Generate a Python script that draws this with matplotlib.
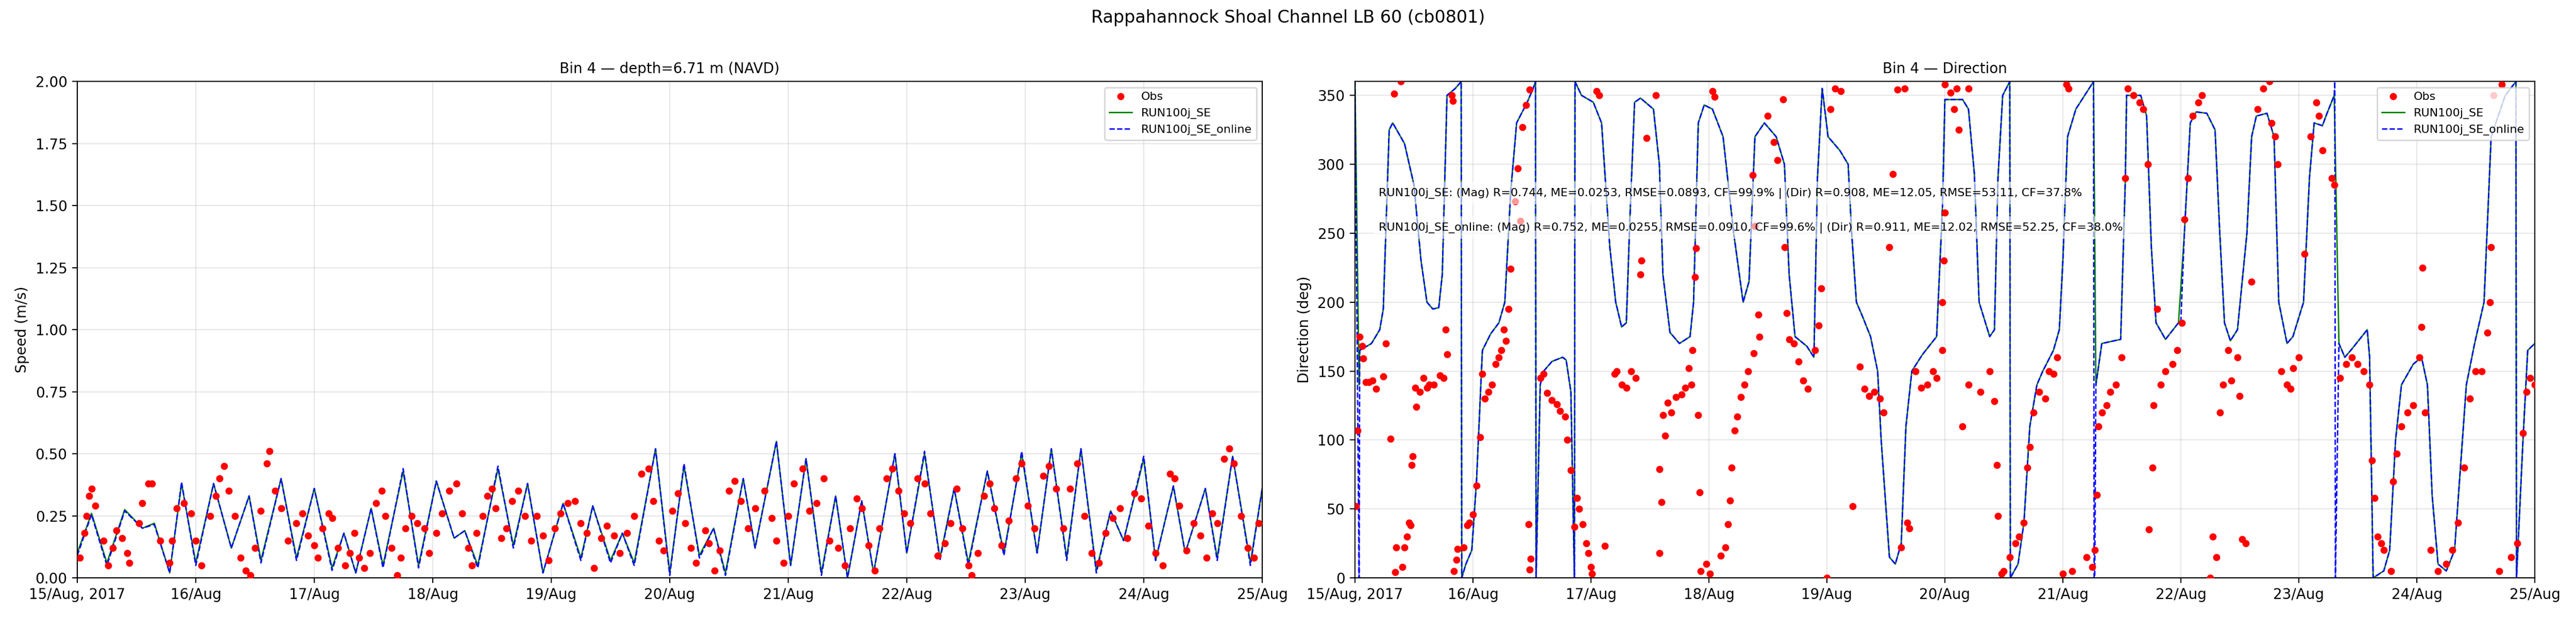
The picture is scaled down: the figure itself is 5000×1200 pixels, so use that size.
import numpy as np
import pandas as pd
import matplotlib.pyplot as plt
import matplotlib.dates as mdates

T0 = pd.Timestamp("2017-08-15")

# velocidade do modelo (dias desde 15/Aug, m/s)
mod_vel = [
    (0.0, 0.10), (0.12, 0.26), (0.25, 0.06), (0.4, 0.275), (0.55, 0.20), (0.65, 0.22),
    (0.78, 0.02), (0.88, 0.38), (1.0, 0.06), (1.15, 0.38), (1.3, 0.12), (1.45, 0.33),
    (1.55, 0.07), (1.72, 0.40), (1.85, 0.08), (2.0, 0.36), (2.15, 0.04), (2.25, 0.18),
    (2.35, 0.02), (2.48, 0.28), (2.58, 0.05), (2.75, 0.43), (2.88, 0.05), (3.03, 0.39),
    (3.18, 0.16), (3.27, 0.19), (3.38, 0.05), (3.55, 0.44), (3.68, 0.13), (3.8, 0.38),
    (3.93, 0.02), (4.1, 0.30), (4.25, 0.08), (4.35, 0.29), (4.5, 0.07), (4.6, 0.18),
    (4.7, 0.06), (4.88, 0.52), (5.0, 0.02), (5.12, 0.45), (5.25, 0.09), (5.37, 0.20),
    (5.47, 0.02), (5.62, 0.40), (5.72, 0.12), (5.9, 0.55), (6.02, 0.05), (6.15, 0.48),
    (6.28, 0.02), (6.4, 0.33), (6.5, 0.0), (6.62, 0.31), (6.72, 0.02), (6.9, 0.50),
    (7.0, 0.10), (7.15, 0.50), (7.28, 0.08), (7.4, 0.36), (7.52, 0.06), (7.68, 0.43),
    (7.82, 0.10), (7.97, 0.50), (8.1, 0.10), (8.22, 0.52), (8.35, 0.08), (8.47, 0.52),
    (8.6, 0.03), (8.72, 0.27), (8.83, 0.15), (9.0, 0.48), (9.1, 0.07), (9.25, 0.37),
    (9.35, 0.10), (9.52, 0.36), (9.62, 0.08), (9.75, 0.49), (9.9, 0.06), (10.0, 0.36),
]
mod_vel_online = [
    (0.0, 0.09), (0.12, 0.255), (0.25, 0.05), (0.4, 0.27), (0.55, 0.20), (0.65, 0.215),
    (0.78, 0.02), (0.88, 0.385), (1.0, 0.05), (1.15, 0.38), (1.3, 0.12), (1.45, 0.33),
    (1.55, 0.06), (1.72, 0.40), (1.85, 0.07), (2.0, 0.36), (2.15, 0.03), (2.25, 0.18),
    (2.35, 0.02), (2.48, 0.28), (2.58, 0.04), (2.75, 0.44), (2.88, 0.04), (3.03, 0.39),
    (3.18, 0.16), (3.27, 0.19), (3.38, 0.04), (3.55, 0.45), (3.68, 0.12), (3.8, 0.38),
    (3.93, 0.02), (4.1, 0.30), (4.25, 0.07), (4.35, 0.29), (4.5, 0.06), (4.6, 0.18),
    (4.7, 0.05), (4.88, 0.52), (5.0, 0.01), (5.12, 0.46), (5.25, 0.08), (5.37, 0.20),
    (5.47, 0.01), (5.62, 0.40), (5.72, 0.12), (5.9, 0.55), (6.02, 0.05), (6.15, 0.48),
    (6.28, 0.01), (6.4, 0.33), (6.5, 0.0), (6.62, 0.31), (6.72, 0.02), (6.9, 0.50),
    (7.0, 0.10), (7.15, 0.51), (7.28, 0.07), (7.4, 0.36), (7.52, 0.05), (7.68, 0.43),
    (7.82, 0.09), (7.97, 0.51), (8.1, 0.10), (8.22, 0.52), (8.35, 0.07), (8.47, 0.52),
    (8.6, 0.02), (8.72, 0.27), (8.83, 0.15), (9.0, 0.49), (9.1, 0.07), (9.25, 0.37),
    (9.35, 0.10), (9.52, 0.36), (9.62, 0.07), (9.75, 0.49), (9.9, 0.05), (10.0, 0.36),
]

obs_vel = [
    (0.02, 0.08), (0.06, 0.18), (0.08, 0.25), (0.1, 0.33), (0.12, 0.36), (0.15, 0.29),
    (0.22, 0.15), (0.26, 0.05), (0.3, 0.12), (0.33, 0.19), (0.38, 0.16), (0.42, 0.10),
    (0.44, 0.06), (0.52, 0.22), (0.55, 0.30), (0.6, 0.38), (0.63, 0.38), (0.7, 0.15),
    (0.78, 0.06), (0.8, 0.15), (0.84, 0.28), (0.9, 0.30), (0.96, 0.26), (1.0, 0.15),
    (1.05, 0.05), (1.12, 0.25), (1.17, 0.33), (1.2, 0.40), (1.24, 0.45), (1.28, 0.35),
    (1.33, 0.25), (1.38, 0.08), (1.42, 0.03), (1.46, 0.01), (1.5, 0.12), (1.55, 0.27),
    (1.6, 0.46), (1.62, 0.51), (1.67, 0.35), (1.72, 0.28), (1.78, 0.15), (1.85, 0.22),
    (1.9, 0.26), (1.95, 0.17), (2.0, 0.13), (2.03, 0.08), (2.07, 0.20), (2.12, 0.26),
    (2.15, 0.24), (2.2, 0.12), (2.26, 0.05), (2.3, 0.10), (2.34, 0.18), (2.38, 0.08),
    (2.42, 0.04), (2.47, 0.10), (2.52, 0.30), (2.57, 0.35), (2.6, 0.25), (2.65, 0.12),
    (2.7, 0.01), (2.73, 0.08), (2.77, 0.20), (2.82, 0.25), (2.87, 0.22), (2.93, 0.20),
    (2.97, 0.10), (3.03, 0.18), (3.08, 0.26), (3.14, 0.35), (3.2, 0.38), (3.25, 0.26),
    (3.3, 0.12), (3.33, 0.05), (3.37, 0.18), (3.42, 0.25), (3.46, 0.33), (3.5, 0.36),
    (3.53, 0.28), (3.58, 0.16), (3.62, 0.20), (3.67, 0.31), (3.72, 0.35), (3.78, 0.25),
    (3.83, 0.15), (3.88, 0.25), (3.93, 0.17), (3.98, 0.07), (4.03, 0.20), (4.08, 0.26),
    (4.14, 0.30), (4.2, 0.31), (4.25, 0.22), (4.3, 0.18), (4.36, 0.04), (4.42, 0.16),
    (4.47, 0.21), (4.53, 0.17), (4.58, 0.10), (4.64, 0.18), (4.7, 0.25), (4.76, 0.42),
    (4.82, 0.44), (4.86, 0.31), (4.91, 0.15), (4.95, 0.11), (5.02, 0.27), (5.07, 0.34),
    (5.13, 0.22), (5.18, 0.12), (5.22, 0.06), (5.3, 0.19), (5.33, 0.14), (5.38, 0.03),
    (5.42, 0.11), (5.5, 0.35), (5.55, 0.39), (5.6, 0.31), (5.66, 0.20), (5.72, 0.28),
    (5.8, 0.35), (5.86, 0.24), (5.9, 0.15), (5.96, 0.06), (6.0, 0.25), (6.05, 0.38),
    (6.12, 0.44), (6.18, 0.27), (6.24, 0.30), (6.3, 0.40), (6.35, 0.15), (6.42, 0.12),
    (6.48, 0.05), (6.52, 0.20), (6.58, 0.32), (6.62, 0.28), (6.68, 0.13), (6.73, 0.03),
    (6.77, 0.20), (6.83, 0.40), (6.88, 0.44), (6.93, 0.35), (6.98, 0.26), (7.03, 0.22),
    (7.09, 0.40), (7.15, 0.38), (7.2, 0.26), (7.26, 0.09), (7.32, 0.14), (7.37, 0.22),
    (7.42, 0.36), (7.47, 0.20), (7.52, 0.05), (7.55, 0.01), (7.6, 0.10), (7.65, 0.33),
    (7.7, 0.38), (7.74, 0.28), (7.8, 0.13), (7.86, 0.23), (7.92, 0.40), (7.97, 0.46),
    (8.02, 0.29), (8.08, 0.20), (8.15, 0.41), (8.2, 0.45), (8.26, 0.36), (8.32, 0.20),
    (8.38, 0.36), (8.44, 0.46), (8.5, 0.25), (8.56, 0.10), (8.62, 0.06), (8.68, 0.18),
    (8.74, 0.24), (8.8, 0.28), (8.86, 0.16), (8.92, 0.34), (8.98, 0.32), (9.04, 0.21),
    (9.1, 0.10), (9.16, 0.05), (9.22, 0.42), (9.26, 0.40), (9.3, 0.29), (9.36, 0.11),
    (9.42, 0.22), (9.48, 0.17), (9.53, 0.08), (9.58, 0.26), (9.62, 0.22), (9.68, 0.48),
    (9.72, 0.52), (9.76, 0.46), (9.82, 0.25), (9.88, 0.12), (9.93, 0.08), (9.97, 0.22),
]

# direcao do modelo (graus)
mod_dir = [
    (0.0, 360), (0.035, 140), (0.04, 165), (0.14, 170), (0.21, 180), (0.24, 195),
    (0.29, 325), (0.32, 330), (0.42, 315), (0.5, 285), (0.56, 230), (0.61, 200),
    (0.66, 195), (0.71, 196), (0.74, 220), (0.78, 350), (0.85, 355), (0.9, 360),
    (0.905, 0), (0.94, 10), (0.99, 20), (1.03, 70), (1.08, 165), (1.15, 177),
    (1.22, 185), (1.27, 200), (1.32, 280), (1.37, 330), (1.46, 345), (1.51, 355),
    (1.53, 360), (1.535, 0), (1.57, 140), (1.6, 150), (1.67, 157), (1.76, 160),
    (1.79, 158), (1.83, 135), (1.86, 0), (1.865, 360), (1.92, 350), (2.02, 345),
    (2.09, 330), (2.16, 240), (2.21, 200), (2.26, 182), (2.3, 185), (2.33, 260),
    (2.37, 345), (2.42, 348), (2.53, 340), (2.58, 300), (2.61, 220), (2.67, 178),
    (2.75, 170), (2.84, 175), (2.87, 200), (2.91, 330), (2.96, 343), (3.03, 340),
    (3.12, 320), (3.21, 250), (3.29, 200), (3.34, 215), (3.39, 320), (3.47, 330),
    (3.57, 320), (3.64, 300), (3.68, 220), (3.73, 175), (3.83, 168), (3.89, 160),
    (3.92, 290), (3.96, 355), (4.01, 320), (4.11, 310), (4.18, 300), (4.21, 250),
    (4.25, 200), (4.3, 190), (4.37, 175), (4.43, 150), (4.46, 100), (4.53, 15),
    (4.58, 10), (4.63, 25), (4.67, 110), (4.72, 150), (4.81, 162), (4.93, 175),
    (4.98, 270), (5.0, 347), (5.15, 347), (5.2, 340), (5.25, 293), (5.29, 200),
    (5.38, 175), (5.42, 180), (5.45, 290), (5.49, 350), (5.55, 360), (5.555, 0),
    (5.62, 10), (5.67, 40), (5.72, 110), (5.78, 140), (5.83, 150), (5.92, 165),
    (5.97, 180), (6.0, 230), (6.04, 320), (6.11, 340), (6.26, 360), (6.28, 140),
    (6.33, 170), (6.49, 173), (6.53, 290), (6.54, 350), (6.66, 350), (6.71, 335),
    (6.75, 240), (6.79, 185), (6.87, 173), (6.98, 185), (7.03, 250), (7.08, 330),
    (7.13, 338), (7.22, 337), (7.29, 325), (7.33, 250), (7.37, 185), (7.42, 172),
    (7.48, 180), (7.56, 250), (7.6, 320), (7.64, 335), (7.73, 337), (7.79, 320),
    (7.83, 200), (7.9, 170), (7.95, 175), (8.04, 200), (8.09, 290), (8.13, 330),
    (8.2, 328), (8.23, 335), (8.3, 350), (8.34, 170), (8.39, 160), (8.44, 165),
    (8.58, 180), (8.6, 160), (8.63, 0), (8.72, 5), (8.77, 20), (8.82, 100),
    (8.87, 140), (8.97, 155), (9.04, 160), (9.09, 140), (9.13, 60), (9.18, 10),
    (9.25, 5), (9.32, 20), (9.37, 80), (9.42, 140), (9.49, 170), (9.57, 200),
    (9.63, 320), (9.75, 350), (9.84, 360), (9.845, 0), (9.9, 100), (9.94, 165),
    (10.0, 170),
]
# online: igual ao modelo, mas cai ate 0 nas viradas
mod_dir_online = [p for p in mod_dir if p[0] not in (0.035,)]
mod_dir_online += [(0.035, 0), (6.265, 0), (6.27, 0), (8.305, 360), (8.31, 0), (7.0, 186)]
mod_dir_online = sorted(mod_dir_online, key=lambda p: p[0])

obs_dir = [
    (0.02, 107), (0.01, 52), (0.04, 175), (0.06, 168), (0.07, 159), (0.09, 142), (0.12, 142),
    (0.15, 143), (0.18, 137), (0.24, 146), (0.26, 170), (0.3, 101), (0.33, 351), (0.35, 22),
    (0.34, 4), (0.39, 360), (0.4, 8), (0.42, 22), (0.44, 30), (0.46, 40), (0.47, 38),
    (0.48, 82), (0.49, 88), (0.51, 138), (0.52, 124), (0.55, 135), (0.58, 145), (0.61, 138),
    (0.63, 140), (0.67, 140), (0.72, 147), (0.75, 145), (0.77, 180), (0.78, 162), (0.82, 350),
    (0.83, 346), (0.84, 5), (0.86, 13), (0.87, 21), (0.92, 22), (0.95, 38), (0.97, 40),
    (1.0, 46), (1.03, 67), (1.06, 102), (1.08, 148), (1.1, 130), (1.13, 135), (1.16, 140),
    (1.19, 155), (1.22, 160), (1.24, 165), (1.26, 180), (1.28, 172), (1.3, 195), (1.32, 224),
    (1.36, 273), (1.38, 297), (1.4, 259), (1.45, 343), (1.42, 327), (1.48, 354), (1.47, 39),
    (1.49, 14), (1.48, 6), (1.57, 145), (1.6, 148), (1.63, 134), (1.67, 129), (1.71, 126),
    (1.74, 121), (1.78, 117), (1.8, 100), (1.83, 78), (1.86, 37), (1.88, 58), (1.9, 50),
    (1.93, 39), (1.96, 25), (1.98, 18), (2.0, 8), (2.01, 3), (2.05, 353), (2.07, 350),
    (2.12, 23), (2.2, 148), (2.22, 150), (2.26, 140), (2.3, 138), (2.34, 150), (2.38, 145),
    (2.43, 230), (2.42, 220), (2.47, 319), (2.55, 350), (2.58, 79), (2.6, 55), (2.58, 18),
    (2.61, 118), (2.63, 103), (2.65, 127), (2.68, 120), (2.72, 131), (2.77, 133), (2.8, 138),
    (2.83, 152), (2.85, 140), (2.86, 165), (2.88, 218), (2.89, 239), (2.91, 118), (2.92, 62),
    (2.93, 5), (2.98, 10), (3.01, 3), (3.03, 353), (3.05, 349), (3.1, 16), (3.14, 22),
    (3.16, 39), (3.18, 56), (3.19, 80), (3.22, 107), (3.24, 117), (3.27, 131), (3.3, 140),
    (3.33, 150), (3.38, 163), (3.42, 191), (3.43, 175), (3.39, 255), (3.37, 292), (3.5, 335),
    (3.55, 316), (3.58, 303), (3.63, 347), (3.64, 240), (3.66, 192), (3.68, 173), (3.72, 170),
    (3.76, 157), (3.8, 143), (3.84, 137), (3.9, 165), (3.93, 183), (3.95, 210), (4.0, 0),
    (4.03, 340), (4.07, 355), (4.12, 353), (4.22, 52), (4.28, 153), (4.32, 137), (4.36, 132),
    (4.4, 135), (4.45, 130), (4.48, 120), (4.53, 240), (4.56, 293), (4.6, 354), (4.66, 355),
    (4.63, 22), (4.68, 40), (4.7, 36), (4.75, 150), (4.8, 138), (4.85, 140), (4.9, 150),
    (4.93, 145), (4.98, 200), (4.99, 230),
    (5.0, 358), (5.05, 352), (5.1, 355), (5.08, 340), (5.2, 355), (5.12, 325), (5.0, 265),
    (4.98, 165), (5.15, 110), (5.2, 140), (5.3, 135), (5.38, 150), (5.42, 128), (5.44, 82),
    (5.45, 45), (5.48, 3), (5.5, 5), (5.55, 15), (5.6, 25), (5.63, 30), (5.67, 40), (5.7, 80),
    (5.72, 95), (5.75, 120), (5.8, 135), (5.85, 130), (5.88, 150), (5.92, 148), (5.95, 160),
    (6.03, 358), (6.05, 355), (6.0, 3), (6.08, 5), (6.2, 15), (6.25, 8), (6.27, 20), (6.29, 60),
    (6.3, 110), (6.33, 120), (6.37, 125), (6.4, 135), (6.45, 140), (6.5, 160), (6.53, 290),
    (6.55, 355), (6.6, 350), (6.65, 345), (6.68, 340), (6.72, 300), (6.8, 195), (6.77, 125),
    (6.76, 80), (6.73, 35), (6.83, 140), (6.87, 150), (6.93, 155), (6.97, 165), (7.01, 185),
    (7.03, 260), (7.06, 290), (7.1, 335), (7.15, 345), (7.18, 350), (7.25, 0), (7.27, 30),
    (7.3, 15), (7.33, 120), (7.36, 140), (7.4, 165), (7.43, 143), (7.48, 160), (7.5, 132),
    (7.52, 28), (7.55, 25), (7.6, 215), (7.65, 340), (7.7, 355), (7.75, 360), (7.77, 330),
    (7.8, 320), (7.82, 300), (7.85, 150), (7.9, 140), (7.93, 137), (7.95, 152), (8.0, 160),
    (8.05, 235), (8.1, 320), (8.15, 345), (8.17, 335), (8.2, 310), (8.28, 290), (8.3, 285),
    (8.35, 145), (8.4, 155), (8.45, 160), (8.5, 155), (8.55, 150), (8.6, 140), (8.62, 85),
    (8.64, 58), (8.67, 30), (8.7, 25), (8.72, 20), (8.78, 5), (8.8, 70), (8.83, 90),
    (8.87, 110), (8.92, 120), (8.97, 125), (9.02, 160), (9.07, 120), (9.04, 182), (9.05, 225),
    (9.12, 20), (9.18, 5), (9.25, 10), (9.3, 20), (9.35, 40), (9.4, 80), (9.45, 130),
    (9.5, 150), (9.55, 150), (9.62, 200), (9.6, 178), (9.63, 240), (9.65, 350), (9.72, 358),
    (9.7, 5), (9.8, 15), (9.85, 25), (9.9, 105), (9.93, 135), (9.96, 145), (10.0, 140),
]


def serie(pares):
    """
    Converte lista de (dias, valor) em (datas, valores).
    """
    d = np.array(pares, dtype=float)
    t = T0 + pd.to_timedelta(d[:, 0], unit="D")
    return t, d[:, 1]


def fmt_data(x, pos=None):
    dt = mdates.num2date(x)
    if dt.day == 15:
        return dt.strftime("%d/%b, %Y")
    return dt.strftime("%d/%b")


def painel(ax, obs, mod, mod_on, titulo, ylabel):
    """
    Plota obs e as duas rodadas do modelo num eixo.
    """
    t, v = serie(obs)
    ax.plot(t, v, "o", color="red", ms=4, label="Obs", zorder=3)
    t, v = serie(mod)
    ax.plot(t, v, "-", color="green", lw=1, label="RUN100j_SE")
    t, v = serie(mod_on)
    ax.plot(t, v, "--", color="blue", lw=1, label="RUN100j_SE_online")
    ax.set_title(titulo, fontsize=10)
    ax.set_ylabel(ylabel)
    ax.set_xlim(T0, T0 + pd.Timedelta(days=10))
    ax.xaxis.set_major_locator(mdates.DayLocator())
    ax.xaxis.set_major_formatter(plt.FuncFormatter(fmt_data))
    ax.grid(True, alpha=0.3)
    ax.legend(loc="upper right", fontsize=8)


fig = plt.figure(figsize=(25, 6))
plt.suptitle("Rappahannock Shoal Channel LB 60 (cb0801)", fontsize=12, y=0.985)

ax1 = plt.subplot(1, 2, 1)
painel(ax1, obs_vel, mod_vel, mod_vel_online, "Bin 4 — depth=6.71 m (NAVD)", "Speed (m/s)")
ax1.set_ylim(0, 2)
ax1.set_yticks(np.arange(0, 2.01, 0.25))

ax2 = plt.subplot(1, 2, 2)
painel(ax2, obs_dir, mod_dir, mod_dir_online, "Bin 4 — Direction", "Direction (deg)")
ax2.set_ylim(0, 360)
caixa = dict(facecolor="white", alpha=0.6, edgecolor="none")
ax2.text(0.02, 0.77, "RUN100j_SE: (Mag) R=0.744, ME=0.0253, RMSE=0.0893, CF=99.9% | (Dir) R=0.908, ME=12.05, RMSE=53.11, CF=37.8%",
         transform=ax2.transAxes, fontsize=8, bbox=caixa, zorder=5)
ax2.text(0.02, 0.70, "RUN100j_SE_online: (Mag) R=0.752, ME=0.0255, RMSE=0.0910, CF=99.6% | (Dir) R=0.911, ME=12.02, RMSE=52.25, CF=38.0%",
         transform=ax2.transAxes, fontsize=8, bbox=caixa, zorder=5)

ax1.set_position([0.030, 0.065, 0.460, 0.803])
ax2.set_position([0.526, 0.065, 0.458, 0.803])
plt.savefig("out.png", dpi=200)
